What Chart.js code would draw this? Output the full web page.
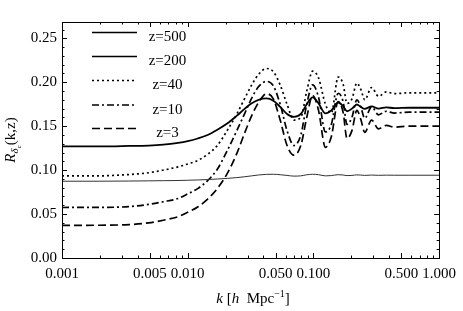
<!DOCTYPE html>
<html>
<head>
<meta charset="utf-8">
<script src="https://cdn.jsdelivr.net/npm/chart.js@4/dist/chart.umd.min.js"></script>
<style>
  html, body { margin: 0; padding: 0; background: #fff; }
  canvas { display: block; }
</style>
</head>
<body>
<canvas id="chart" width="463" height="311"></canvas>
<script>
// k values (h/Mpc) shared by every curve
const kValues = [0.001, 0.00198, 0.0034, 0.00488, 0.00639, 0.00837, 0.0100, 0.0120, 0.0144, 0.0172,
  0.0206, 0.0246, 0.0285, 0.0323, 0.0366, 0.0423, 0.0480, 0.0544, 0.0617, 0.0700,
  0.0794, 0.0885, 0.0986, 0.1098, 0.1246, 0.1388, 0.1574, 0.1722, 0.1851, 0.2025,
  0.2216, 0.2381, 0.2559, 0.2904, 0.3294, 0.3803, 0.4392, 0.5754, 1.0];

const z500 = [0.0874, 0.0874, 0.0876, 0.0878, 0.0880, 0.0882, 0.0885, 0.0888, 0.0893, 0.0899,
  0.0906, 0.0915, 0.0925, 0.0935, 0.0945, 0.0952, 0.0953, 0.0948, 0.0940, 0.0932,
  0.0935, 0.0947, 0.0953, 0.0948, 0.0935, 0.0938, 0.0948, 0.0945, 0.0938, 0.0940,
  0.0946, 0.0944, 0.0940, 0.0944, 0.0941, 0.0943, 0.0942, 0.0942, 0.0942];

const z200 = [0.127, 0.127, 0.1275, 0.128, 0.129, 0.131, 0.133, 0.136, 0.140, 0.146,
  0.153, 0.162, 0.170, 0.176, 0.180, 0.1816, 0.179, 0.172, 0.164, 0.1606,
  0.164, 0.175, 0.1827, 0.176, 0.1645, 0.168, 0.177, 0.173, 0.167, 0.170,
  0.1747, 0.172, 0.1697, 0.1725, 0.170, 0.1715, 0.1705, 0.171, 0.171];

const z40 = [0.0934, 0.0935, 0.095, 0.097, 0.100, 0.1037, 0.107, 0.111, 0.118, 0.128,
  0.145, 0.164, 0.182, 0.197, 0.209, 0.2157, 0.212, 0.197, 0.175, 0.157,
  0.160, 0.190, 0.2127, 0.205, 0.175, 0.165, 0.206, 0.198, 0.176, 0.181,
  0.199, 0.192, 0.180, 0.194, 0.184, 0.189, 0.187, 0.188, 0.188];

const z10 = [0.0575, 0.0576, 0.0585, 0.061, 0.064, 0.0677, 0.073, 0.079, 0.088, 0.101,
  0.122, 0.145, 0.165, 0.182, 0.195, 0.201, 0.196, 0.175, 0.145, 0.128,
  0.140, 0.175, 0.197, 0.183, 0.1435, 0.152, 0.1875, 0.178, 0.152, 0.160,
  0.180, 0.172, 0.159, 0.172, 0.163, 0.167, 0.165, 0.166, 0.166];

const z3 = [0.0372, 0.0373, 0.038, 0.040, 0.043, 0.047, 0.052, 0.058, 0.067, 0.079,
  0.096, 0.119, 0.143, 0.162, 0.177, 0.187, 0.181, 0.157, 0.128, 0.117,
  0.128, 0.160, 0.185, 0.168, 0.126, 0.138, 0.178, 0.166, 0.136, 0.145,
  0.168, 0.158, 0.143, 0.157, 0.147, 0.151, 0.149, 0.150, 0.150];

const xTicks = [0.001, 0.005, 0.01, 0.05, 0.1, 0.5, 1.0];
const yTicks = [0.00, 0.05, 0.10, 0.15, 0.20, 0.25];
const seriesLabels = ['z=500', 'z=200', 'z=40', 'z=10', 'z=3'];

const SERIF = '"Liberation Serif", "DejaVu Serif", serif';

function points(vals) {
  return vals.map((v, i) => ({ x: kValues[i], y: v }));
}

function line(label, vals, width, dash, color) {
  return {
    label: label,
    data: points(vals),
    borderColor: color,
    borderWidth: width,
    borderDash: dash,
    pointRadius: 0,
    fill: false,
    cubicInterpolationMode: 'monotone'
  };
}

// frame, inward ticks, legend and axis titles
const decorations = {
  id: 'decorations',
  afterDraw(chart) {
    const ctx = chart.ctx;
    const a = chart.chartArea;
    const xs = chart.scales.x, ys = chart.scales.y;
    ctx.save();
    ctx.strokeStyle = '#000';
    ctx.lineWidth = 1;
    ctx.strokeRect(Math.round(a.left) + 0.5, Math.round(a.top) + 0.5,
      Math.round(a.right - a.left), Math.round(a.bottom - a.top));

    ctx.beginPath();
    // x ticks (bottom and top)
    for (let d = 0.001; d < 1; d *= 10) {
      for (let m = 1; m < 10; m++) {
        const v = d * m;
        const major = xTicks.some(t => Math.abs(t - v) < 1e-9);
        const len = major ? 5 : 2.5;
        const px = Math.round(xs.getPixelForValue(v)) + 0.5;
        ctx.moveTo(px, a.bottom); ctx.lineTo(px, a.bottom - len);
        ctx.moveTo(px, a.top); ctx.lineTo(px, a.top + len);
      }
    }
    // y ticks (left and right)
    for (let i = 0; i <= 26; i++) {
      const v = i / 100;
      const len = i % 5 === 0 ? 5 : 2.5;
      const py = Math.round(ys.getPixelForValue(v)) + 0.5;
      ctx.moveTo(a.left, py); ctx.lineTo(a.left + len, py);
      ctx.moveTo(a.right, py); ctx.lineTo(a.right - len, py);
    }
    ctx.stroke();

    // legend
    const rowY = [32.5, 56.5, 80.5, 105, 128.5];
    chart.data.datasets.forEach((ds, i) => {
      const y = rowY[i];
      ctx.save();
      ctx.strokeStyle = '#000';
      ctx.lineWidth = 1.5;
      ctx.setLineDash(ds.borderDash || []);
      ctx.beginPath();
      ctx.moveTo(92, y); ctx.lineTo(137, y);
      ctx.stroke();
      ctx.restore();
      ctx.fillStyle = '#000';
      ctx.font = '15px ' + SERIF;
      ctx.textAlign = 'center';
      ctx.textBaseline = 'alphabetic';
      ctx.fillText(seriesLabels[i], 167.5, y + 8.5);
    });

    // rich text helper
    function rich(parts) {
      let w = 0;
      parts.forEach(p => { ctx.font = p.f; p.w = ctx.measureText(p.t).width; w += p.w; });
      return w;
    }
    function drawRich(parts, x0, y0) {
      let x = x0;
      ctx.textAlign = 'left';
      ctx.textBaseline = 'alphabetic';
      parts.forEach(p => { ctx.font = p.f; ctx.fillText(p.t, x, y0 + (p.dy || 0)); x += p.w; });
    }

    ctx.fillStyle = '#000';
    const xTitle = [
      { t: 'k', f: 'italic 15px ' + SERIF },
      { t: ' [', f: '15px ' + SERIF },
      { t: 'h', f: 'italic 15px ' + SERIF },
      { t: '  Mpc', f: '15px ' + SERIF },
      { t: '\u22121', f: '10px ' + SERIF, dy: -6 },
      { t: ']', f: '15px ' + SERIF }
    ];
    const wx = rich(xTitle);
    drawRich(xTitle, 253 - wx / 2, 303);

    const yTitle = [
      { t: 'R', f: 'italic 15px ' + SERIF },
      { t: '\u03b4', f: 'italic 11px ' + SERIF, dy: 3 },
      { t: 'c', f: 'italic 7px ' + SERIF, dy: 6 },
      { t: '(k,z)', f: '15px ' + SERIF }
    ];
    const wy = rich(yTitle);
    ctx.translate(15, 140);
    ctx.rotate(-Math.PI / 2);
    drawRich(yTitle, -wy / 2, 0);
    ctx.restore();
  }
};

new Chart(document.getElementById('chart').getContext('2d'), {
  type: 'line',
  data: {
    datasets: [
      line('z=500', z500, 1, [], '#333'),
      line('z=200', z200, 1.8, [], '#000'),
      line('z=40', z40, 1.7, [2, 3], '#000'),
      line('z=10', z10, 1.7, [7, 3, 2, 3], '#000'),
      line('z=3', z3, 1.7, [8, 4], '#000')
    ]
  },
  options: {
    responsive: false,
    animation: false,
    devicePixelRatio: 1,
    layout: { padding: { left: 0, right: 17, top: 22, bottom: 0 } },
    plugins: { legend: { display: false }, tooltip: { enabled: false } },
    scales: {
      x: {
        type: 'logarithmic',
        min: 0.001,
        max: 1.0,
        grid: { display: false, drawTicks: false },
        border: { display: false },
        afterBuildTicks: (s) => { s.ticks = xTicks.map(v => ({ value: v })); },
        afterFit: (s) => { s.height = 53; },
        ticks: {
          autoSkip: false,
          maxRotation: 0,
          padding: 7,
          color: '#000',
          font: { family: SERIF, size: 15 },
          callback: (v) => Number(v).toFixed(3)
        }
      },
      y: {
        min: 0,
        max: 0.2686,
        grid: { display: false, drawTicks: false },
        border: { display: false },
        afterBuildTicks: (s) => { s.ticks = yTicks.map(v => ({ value: v })); },
        afterFit: (s) => { s.width = 62; },
        ticks: {
          padding: 5,
          color: '#000',
          font: { family: SERIF, size: 15 },
          callback: (v) => Number(v).toFixed(2)
        }
      }
    }
  },
  plugins: [decorations]
});
</script>
</body>
</html>
